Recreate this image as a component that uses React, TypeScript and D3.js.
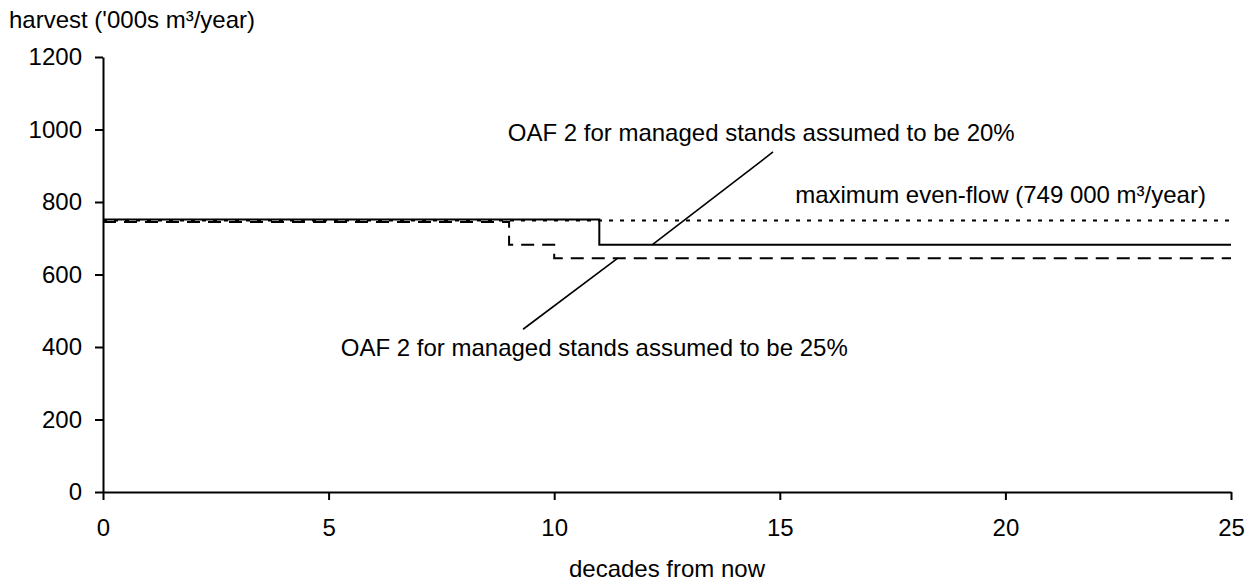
import { useEffect, useRef } from "react";
import * as d3 from "d3";

// step series: [decade, harvest]
const solidSeries: [number, number][] = [
  [0, 752], [11, 752], [11, 682], [25, 682],
];
const dashedSeries: [number, number][] = [
  [0, 745], [9, 745], [9, 682], [10, 682], [10, 645], [25, 645],
];
const evenFlowSeries: [number, number][] = [
  [0, 749], [25, 749],
];

const xTicks = [0, 5, 10, 15, 20, 25];
const yTicks = [0, 200, 400, 600, 800, 1000, 1200];

const labelTop = "OAF 2 for managed stands assumed to be 20%";
const labelBottom = "OAF 2 for managed stands assumed to be 25%";
const labelEvenFlow = "maximum even-flow (749 000 m³/year)";
// annotation pointers: [decade, harvest] from -> to
const pointerTop: [number, number][] = [[14.85, 938], [12.17, 682]];
const pointerBottom: [number, number][] = [[9.31, 449], [11.41, 645]];
// anchor points for the labels (left x, baseline y) in data units
const labelTopAt: [number, number] = [8.97, 968];
const labelBottomAt: [number, number] = [5.27, 374];
const labelEvenFlowAt: [number, number] = [15.34, 797];

const W = 1251;
const H = 583;
const margin = { left: 103, right: 20, top: 57, bottom: 91 };
const FONT = "'Liberation Sans', Arial, sans-serif";
const FS = "24px";

export default function App() {
  const svgRef = useRef<SVGSVGElement>(null);

  useEffect(() => {
    if (!svgRef.current) return;
    const svg = d3.select(svgRef.current);
    svg.selectAll("*").remove();

    const x = d3.scaleLinear().domain([0, 25]).range([margin.left, W - margin.right]);
    const y = d3.scaleLinear().domain([0, 1200]).range([H - margin.bottom, margin.top]);

    const line = d3.line<[number, number]>()
      .x(d => x(d[0]))
      .y(d => y(d[1]));

    // axes
    const xAxis = d3.axisBottom(x).tickValues(xTicks).tickFormat(d3.format("d"))
      .tickSize(8).tickSizeOuter(0).tickPadding(19);
    const gx = svg.append("g")
      .attr("transform", `translate(0,${y(0)})`)
      .call(xAxis);
    const yAxis = d3.axisLeft(y).tickValues(yTicks).tickFormat(d3.format("d"))
      .tickSize(8).tickSizeOuter(0).tickPadding(13);
    const gy = svg.append("g")
      .attr("transform", `translate(${x(0)},0)`)
      .call(yAxis);

    [gx, gy].forEach(g => {
      g.selectAll("path").attr("stroke", "#000").attr("stroke-width", 2);
      g.selectAll("line").attr("stroke", "#000").attr("stroke-width", 2);
      g.selectAll("text")
        .attr("fill", "#000")
        .style("font-family", FONT)
        .style("font-size", FS);
    });

    // even-flow dotted line
    svg.append("path")
      .datum(evenFlowSeries)
      .attr("d", line)
      .attr("fill", "none")
      .attr("stroke", "#000")
      .attr("stroke-width", 2)
      .attr("stroke-dasharray", "4,7");

    svg.append("path")
      .datum(dashedSeries)
      .attr("d", line)
      .attr("fill", "none")
      .attr("stroke", "#000")
      .attr("stroke-width", 2)
      .attr("stroke-dasharray", "13,8");

    svg.append("path")
      .datum(solidSeries)
      .attr("d", line)
      .attr("fill", "none")
      .attr("stroke", "#000")
      .attr("stroke-width", 2);

    // annotation pointers
    [pointerTop, pointerBottom].forEach(p => {
      svg.append("path")
        .datum(p)
        .attr("d", line)
        .attr("fill", "none")
        .attr("stroke", "#000")
        .attr("stroke-width", 1.6);
    });

    const labels: [string, [number, number]][] = [
      [labelTop, labelTopAt],
      [labelBottom, labelBottomAt],
      [labelEvenFlow, labelEvenFlowAt],
    ];
    labels.forEach(([t, at]) => {
      svg.append("text")
        .attr("x", x(at[0]))
        .attr("y", y(at[1]))
        .attr("fill", "#000")
        .style("font-family", FONT)
        .style("font-size", FS)
        .text(t);
    });

    // axis titles
    svg.append("text")
      .attr("x", 9)
      .attr("y", 28)
      .attr("fill", "#000")
      .style("font-family", FONT)
      .style("font-size", FS)
      .text("harvest ('000s m³/year)");

    svg.append("text")
      .attr("x", (x(0) + x(25)) / 2)
      .attr("y", 577)
      .attr("text-anchor", "middle")
      .attr("fill", "#000")
      .style("font-family", FONT)
      .style("font-size", FS)
      .text("decades from now");
  }, []);

  return (
    <svg
      ref={svgRef}
      width={W}
      height={H}
      style={{ position: "absolute", left: 0, top: 0, background: "#fff" }}
    />
  );
}
